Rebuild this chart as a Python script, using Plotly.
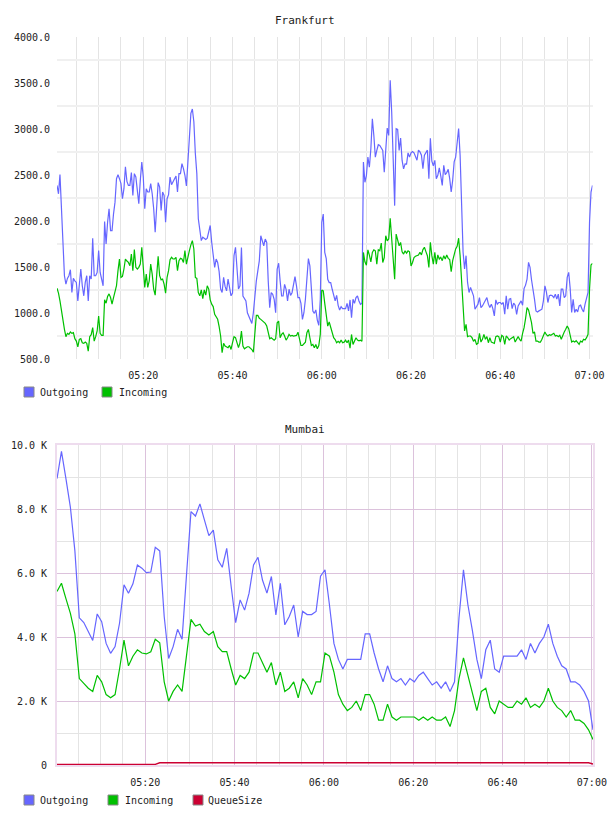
import pandas as pd
import plotly.graph_objects as go

# ---------------- Frankfurt (20 s samples) ----------------
FRA_START = "2024-05-01 05:00:40"
FRA_OUT = [
    2387, 2296, 2504, 2096, 1696, 1405, 1314, 1376, 1405, 1470,
    1223, 1376, 1350, 1332, 1132, 1332, 1478, 1296, 1187, 1332,
    1405, 1132, 1405, 1369, 1813, 1405, 1405, 1441, 1678, 1441,
    1376, 1296, 1995, 1751, 1987, 2133, 1896, 1896, 2078, 2205,
    2460, 2504, 2460, 2406, 2242, 2351, 2588, 2431, 2387, 2387,
    2526, 2278, 2515, 2478, 2333, 2187, 2442, 2642, 2478, 2133,
    2351, 2315, 2315, 2406, 2296, 2133, 1878, 2205, 2417, 2369,
    2115, 2315, 2278, 1987, 2242, 2286, 2478, 2395, 2424, 2460,
    2489, 2315, 2515, 2515, 2624, 2569, 2497, 2380, 2606, 2897,
    3170, 3217, 3079, 2733, 2515, 2024, 1878, 1787, 1823, 1805,
    1798, 1813, 1896, 1951, 1769, 1623, 1496, 1587, 1550, 1449,
    1260, 1223, 1387, 1289, 1241, 1369, 1296, 1187, 1216, 1623,
    1714, 1441, 1260,
    1294, 1712, 1185, 1149, 1131, 1003, 960, 923, 887, 1003,
    1203, 1349, 1458, 1567, 1840, 1767, 1731, 1803, 1767, 1349,
    1058, 1222, 1203, 1149, 1003, 1476, 1541, 1349, 1185, 1185,
    1312, 1258, 1131, 1258, 1192, 1221, 1294, 1396, 1294, 1167,
    1167, 1105, 931, 1003, 1149, 1403, 1592, 1512, 1258, 1022,
    996, 1033, 923, 865, 1149, 1985, 2076, 1658, 1592, 1367,
    1331, 1331, 1258, 1178, 1131, 1192, 1083, 1033, 1069, 1047,
    1047, 1047, 1105, 1022, 1142, 949, 1149, 1105, 1167, 1185,
    1131, 1094, 1105, 2640, 2421, 2494, 2694, 2585, 2785, 3112,
    2930, 2694, 2767, 2829, 2821, 2792, 2767, 2530, 2850, 3010,
    2930, 3530, 3185, 2603, 2167, 3003, 2996, 2767, 2901, 2658,
    2567, 2621, 2618, 2741, 2694, 2741, 2756, 2741,
    2697, 2660, 2770, 2751, 2715, 2569, 2715, 2751, 2770, 2460,
    2900, 2650, 2599, 2660, 2460, 2497, 2577, 2489, 2387, 2606,
    2504, 2526, 2562, 2460, 2315, 2442, 2642, 2693, 2861, 3006,
    2715, 2024, 1660, 1478, 1623, 1332, 1223, 1278, 1223, 1187,
    1041, 1070, 1096, 1168, 1059, 1077, 1107, 1143, 1168, 1096,
    1059, 1096, 1048, 968, 1143, 1096, 1114, 1114, 1096, 1114,
    986, 1187, 1041, 1150, 1157, 1048, 1107, 1085, 986, 1077,
    1114, 1132, 1085, 1267, 1303, 1369, 1550, 1496, 1361, 1267,
    1150, 1023, 1012, 1023, 1034, 1041, 1132, 1296, 1230, 1114,
    1187, 1194, 1187, 1168, 1205, 1150, 1205, 1077, 1260, 1260,
    1168, 1187, 1387, 1441, 1267, 1005, 1150, 1005, 1041, 1012,
    1077, 1085, 1041, 1012, 1096, 1168, 1223, 1987, 2315, 2387,
]
FRA_IN = [
    1270, 1216, 1132, 1023, 877, 823, 743, 779, 768, 794,
    779, 786, 721, 695, 633, 714, 721, 677, 670, 684,
    670, 586, 743, 764, 841, 695, 743, 805, 968, 779,
    757, 757, 1143, 1107, 1179, 1208, 1168, 1096, 1168, 1223,
    1296, 1460, 1587, 1387, 1398, 1478, 1587, 1565, 1550, 1514,
    1641, 1460, 1689, 1496, 1478, 1496, 1532, 1714, 1532, 1278,
    1423, 1278, 1350, 1532, 1423, 1260, 1194, 1460, 1616, 1405,
    1361, 1369, 1314, 1216, 1387, 1460, 1580, 1605, 1587, 1587,
    1605, 1460, 1569, 1594, 1587, 1550, 1678, 1532, 1623, 1678,
    1740, 1787, 1696, 1387, 1376, 1223, 1187, 1252, 1157, 1252,
    1194, 1296, 1260, 1143, 1096, 1070, 986, 961, 932, 852,
    750, 568, 670, 641, 633, 623, 648, 604, 677, 743,
    732, 659, 623,
    676, 803, 640, 611, 622, 633, 633, 618, 603, 574,
    767, 974, 974, 942, 931, 916, 909, 887, 858, 792,
    720, 731, 712, 705, 720, 894, 912, 731, 767, 785,
    749, 705, 731, 767, 749, 756, 749, 756, 756, 792,
    712, 647, 647, 669, 683, 785, 822, 731, 647, 658,
    622, 658, 611, 647, 767, 1251, 1240, 1105, 949, 858,
    902, 851, 785, 731, 712, 676, 691, 676, 705, 676,
    683, 705, 676, 705, 618, 767, 658, 694, 731, 705,
    698, 705, 694, 1658, 1556, 1520, 1687, 1629, 1556, 1658,
    1687, 1676, 1531, 1687, 1676, 1760, 1549, 1603, 1840, 1785,
    1803, 2029, 1803, 1549, 1367, 1858, 1803, 1731, 1767, 1665,
    1640, 1676, 1651, 1676, 1665, 1512, 1549, 1603,
    1616, 1623, 1631, 1660, 1631, 1689, 1714, 1667, 1623, 1496,
    1769, 1623, 1532, 1660, 1532, 1631, 1587, 1605, 1569, 1623,
    1587, 1631, 1594, 1580, 1449, 1569, 1631, 1696, 1725, 1813,
    1623, 1350, 1114, 805, 877, 743, 750, 750, 732, 692,
    714, 659, 670, 779, 684, 714, 768, 714, 743, 677,
    732, 684, 677, 670, 743, 750, 743, 684, 757, 743,
    659, 750, 732, 706, 721, 728, 743, 684, 721, 743,
    714, 695, 779, 841, 939, 1059, 1034, 961, 895, 779,
    794, 695, 695, 684, 684, 714, 757, 794, 764, 750,
    764, 757, 768, 779, 750, 757, 743, 757, 714, 764,
    794, 823, 859, 830, 743, 684, 695, 684, 699, 677,
    659, 695, 684, 714, 706, 732, 768, 1260, 1521, 1540,
]
FRA_YTICKS = [500, 1000, 1500, 2000, 2500, 3000, 3500, 4000]
FRA_YTEXT = ["500.0", "1000.0", "1500.0", "2000.0", "2500.0", "3000.0", "3500.0", "4000.0"]

# ---------------- Mumbai (1 min samples) ----------------
MUM_START = "2024-05-01 05:00:15"
MUM_OUT = [
    8950, 9800, 8950, 8050, 6700, 4600, 4450, 4170, 3890, 4720,
    4480, 3800, 3490, 3700, 4430, 5630, 5370, 5660, 6250, 6150,
    6010, 6030, 6800, 6690, 4640, 3330, 3700, 4240, 3930, 5950,
    7920, 7780, 8160, 7660, 7170, 7340, 6410, 6180, 6770, 5570,
    4450, 5160, 4840, 5370, 6250, 6490, 5780, 5370, 5890, 4690,
    5680, 4380, 4640, 5000, 4000, 4800, 4700, 4700, 4800, 5900,
    6100, 5000, 3800, 3300, 3000, 3300, 3300, 3300, 3300, 4100,
    4100, 3500, 3000, 2600, 3100, 2700, 2600, 2700, 2500, 2700,
    2600, 2800, 2900, 2700, 2500, 2600, 2400, 2600, 2300, 2600,
    4600, 6100, 5000, 4200, 3300, 2700, 3600, 3900, 3000, 2900,
    3400, 3400, 3400, 3400, 3600, 3300, 3800, 3500, 3800, 4000,
    4400, 3800, 3400, 3100, 3000, 2600, 2600, 2500, 2300, 2000,
    1100,
]
MUM_IN = [
    5420, 5680, 5200, 4740, 4100, 2700, 2550, 2400, 2300, 2800,
    2600, 2200, 2100, 2200, 3000, 3900, 3100, 3400, 3600, 3500,
    3470, 3540, 3930, 3820, 2600, 2000, 2300, 2500, 2300, 3500,
    4550, 4340, 4400, 4170, 4060, 4170, 3700, 3540, 3540, 3000,
    2500, 2800, 2700, 2900, 3500, 3500, 3200, 2900, 3200, 2500,
    2900, 2300, 2400, 2600, 2100, 2700, 2500, 2200, 2600, 2600,
    3500, 3400, 2900, 2200, 1900, 1700, 1800, 2000, 1700, 2200,
    2200, 1900, 1400, 1400, 1900, 1500, 1400, 1500, 1500, 1500,
    1500, 1400, 1500, 1400, 1500, 1400, 1400, 1500, 1200, 1700,
    2700, 3350, 2800, 2300, 1700, 2300, 2400, 1800, 1600, 2000,
    1900, 1800, 1800, 2000, 1900, 2100, 1800, 1900, 1800, 2000,
    2400, 2000, 1800, 1700, 1500, 1700, 1400, 1400, 1300, 1100,
    800,
]
MUM_QUEUE = [20] * 23 + [70] * 7 + [85] * 5 + [70] * 85 + [30]
MUM_YTICKS = [0, 2000, 4000, 6000, 8000, 10000]
MUM_YTEXT = ["0", "2.0 K", "4.0 K", "6.0 K", "8.0 K", "10.0 K"]

C_OUT, C_IN, C_Q = "#6666ff", "#00c000", "#cc0033"
FONT = "DejaVu Sans Mono"
W, H = 608, 816

t_fra = pd.date_range(FRA_START, periods=len(FRA_OUT), freq="20s")
t_mum = pd.date_range(MUM_START, periods=len(MUM_OUT), freq="1min")

fig = go.Figure()
fig.add_trace(go.Scatter(x=t_fra, y=FRA_OUT, mode="lines", line=dict(color=C_OUT, width=1.2),
                         xaxis="x", yaxis="y", showlegend=False))
fig.add_trace(go.Scatter(x=t_fra, y=FRA_IN, mode="lines", line=dict(color=C_IN, width=1.2),
                         xaxis="x", yaxis="y", showlegend=False))
fig.add_trace(go.Scatter(x=t_mum, y=MUM_OUT, mode="lines", line=dict(color=C_OUT, width=1.2),
                         xaxis="x2", yaxis="y2", showlegend=False))
fig.add_trace(go.Scatter(x=t_mum, y=MUM_IN, mode="lines", line=dict(color=C_IN, width=1.2),
                         xaxis="x2", yaxis="y2", showlegend=False))
fig.add_trace(go.Scatter(x=t_mum, y=MUM_QUEUE, mode="lines", line=dict(color=C_Q, width=1.4),
                         xaxis="x2", yaxis="y2", showlegend=False, cliponaxis=False))

tick_font = dict(family=FONT, size=10, color="#222222")
GRAY = "#e4e4e4"
PURPLE = "#dcc2dc"

def px_x(p):
    return p / W

def px_y(p):
    return 1 - p / H

fig.update_layout(
    width=W, height=H, margin=dict(l=0, r=0, t=0, b=0, autoexpand=False),
    paper_bgcolor="white", plot_bgcolor="white", showlegend=False,
    xaxis=dict(domain=[px_x(57), px_x(592.5)], anchor="y", type="date",
               range=[t_fra[0], t_fra[-1]], tickformat="%H:%M",
               tick0="2024-05-01 05:00", dtick=1200000,
               showgrid=True, gridcolor=GRAY, gridwidth=1,
               minor=dict(tick0="2024-05-01 05:00", dtick=300000, showgrid=True,
                          gridcolor=GRAY, gridwidth=1),
               ticks="", showline=False, zeroline=False, tickfont=tick_font,
               ticklabelstandoff=9, automargin=False),
    yaxis=dict(domain=[px_y(359), px_y(37)], anchor="x", range=[500, 4000],
               tickmode="array", tickvals=FRA_YTICKS, ticktext=FRA_YTEXT,
               showgrid=False,
               minor=dict(tickmode="array", tickvals=[750, 1250, 1750, 2250, 2750, 3250, 3750],
                          showgrid=True, gridcolor="#f0f0f0", gridwidth=2),
               ticks="", showline=False, zeroline=False, tickfont=tick_font,
               ticklabelstandoff=6, automargin=False),
    xaxis2=dict(domain=[px_x(57), px_x(593)], anchor="y2", type="date",
                range=[t_mum[0], t_mum[-1]], tickformat="%H:%M",
                tick0="2024-05-01 05:00", dtick=1200000,
                showgrid=True, gridcolor=PURPLE, gridwidth=1,
                minor=dict(tick0="2024-05-01 05:00", dtick=300000, showgrid=True,
                           gridcolor=GRAY, gridwidth=1),
                ticks="", showline=True, linecolor="#eedcee", linewidth=2, mirror=True,
                zeroline=False, tickfont=tick_font, ticklabelstandoff=7, automargin=False),
    yaxis2=dict(domain=[px_y(765), px_y(445)], anchor="x2", range=[0, 10000],
                tickmode="array", tickvals=MUM_YTICKS, ticktext=MUM_YTEXT,
                showgrid=True, gridcolor=PURPLE, gridwidth=1,
                minor=dict(dtick=1000, tick0=0, showgrid=True, gridcolor=GRAY, gridwidth=1),
                ticks="", showline=True, linecolor="#eedcee", linewidth=2, mirror=True,
                zeroline=False, tickfont=tick_font, ticklabelstandoff=6, automargin=False),
)

annotations = [
    dict(text="Frankfurt", x=px_x(305), y=px_y(20), xref="paper", yref="paper",
         showarrow=False, xanchor="center", yanchor="middle",
         font=dict(family=FONT, size=11, color="#222222")),
    dict(text="Mumbai", x=px_x(305), y=px_y(429), xref="paper", yref="paper",
         showarrow=False, xanchor="center", yanchor="middle",
         font=dict(family=FONT, size=11, color="#222222")),
]
shapes = []

def legend_item(label, color, sx, tx, cy):
    shapes.append(dict(type="rect", xref="paper", yref="paper",
                       x0=px_x(sx), x1=px_x(sx + 10), y0=px_y(cy + 5), y1=px_y(cy - 5),
                       fillcolor=color, line=dict(color="#888888", width=1)))
    annotations.append(dict(text=label, x=px_x(tx), y=px_y(cy), xref="paper", yref="paper",
                            showarrow=False, xanchor="left", yanchor="middle",
                            font=dict(family=FONT, size=10, color="#222222")))

legend_item("Outgoing", C_OUT, 24, 38, 392)
legend_item("Incoming", C_IN, 102, 117, 392)
legend_item("Outgoing", C_OUT, 24, 38, 800)
legend_item("Incoming", C_IN, 108, 123, 800)
legend_item("QueueSize", C_Q, 193, 206, 800)

fig.update_layout(annotations=annotations, shapes=shapes)
fig.write_html("out.html")
